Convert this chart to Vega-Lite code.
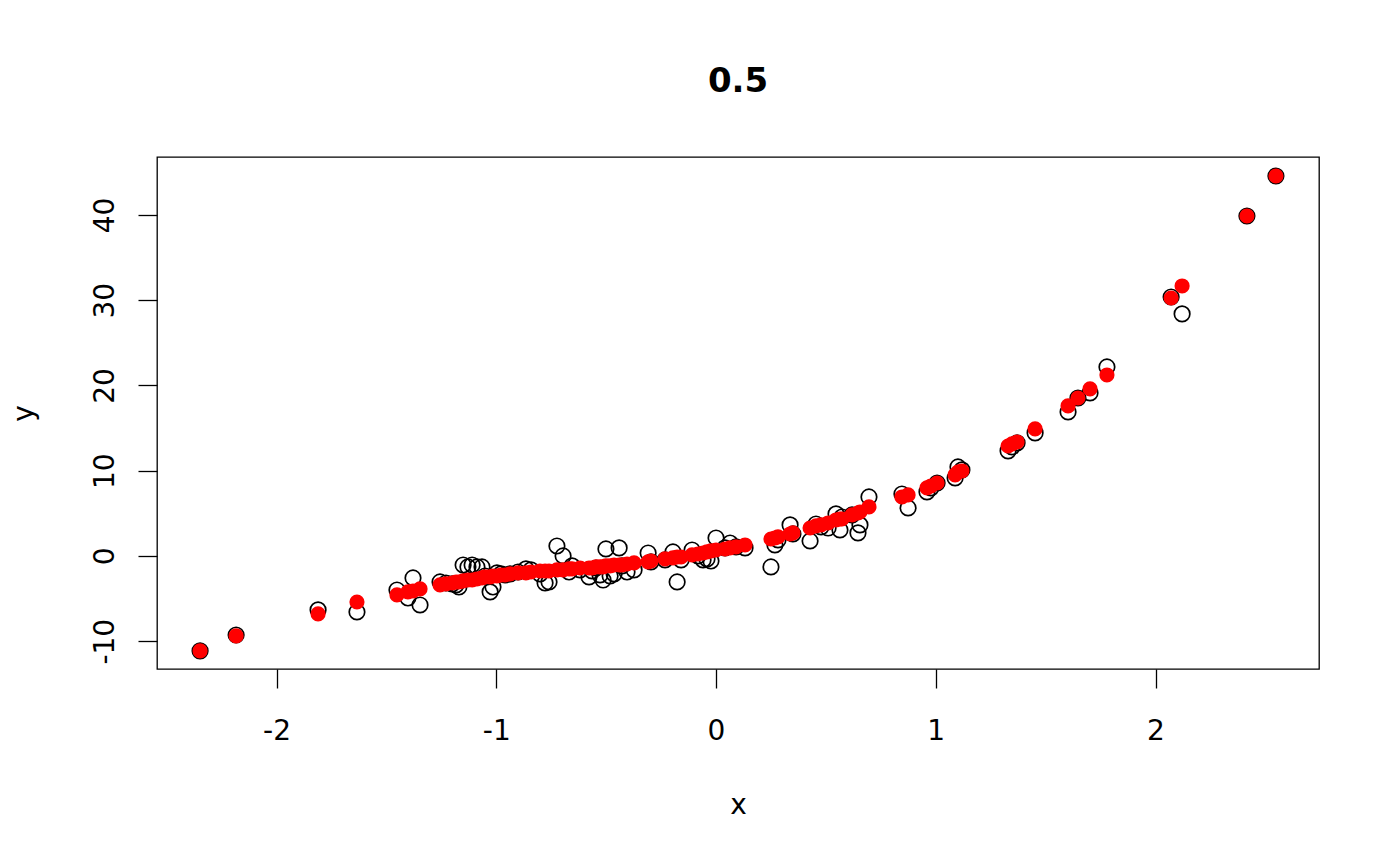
{
  "$schema": "https://vega.github.io/schema/vega-lite/v6.json",
  "width": 1162,
  "height": 512,
  "autosize": {"type": "none"},
  "padding": {"left": 157, "top": 157, "right": 81, "bottom": 197},
  "background": "white",
  "title": {
    "text": "0.5",
    "font": "DejaVu Sans",
    "fontSize": 34,
    "fontWeight": "bold",
    "color": "black",
    "anchor": "middle",
    "baseline": "alphabetic",
    "offset": 31
  },
  "config": {
    "view": {"stroke": "black", "strokeWidth": 1.3},
    "axis": {
      "grid": false,
      "domain": false,
      "tickColor": "black",
      "tickWidth": 1.3,
      "tickSize": 19,
      "labelFont": "DejaVu Sans",
      "labelFontSize": 28,
      "labelColor": "black",
      "labelExpr": "datum.value < 0 ? '-' + abs(datum.value) : '' + datum.value",
      "titleFont": "DejaVu Sans",
      "titleFontSize": 28,
      "titleFontWeight": "normal",
      "titleColor": "black"
    }
  },
  "data": {
    "values": [
      {"x": -2.348, "y": -11.14, "fit": -11.14},
      {"x": -2.184, "y": -9.27, "fit": -9.38},
      {"x": -1.811, "y": -6.33, "fit": -6.80},
      {"x": -1.634, "y": -6.57, "fit": -5.40},
      {"x": -1.452, "y": -3.99, "fit": -4.57},
      {"x": -1.402, "y": -4.93, "fit": -4.22},
      {"x": -1.379, "y": -2.58, "fit": -4.11},
      {"x": -1.347, "y": -5.75, "fit": -3.87},
      {"x": -1.256, "y": -3.05, "fit": -3.40},
      {"x": -1.229, "y": -3.17, "fit": -3.28},
      {"x": -1.201, "y": -3.28, "fit": -3.17},
      {"x": -1.183, "y": -3.40, "fit": -3.05},
      {"x": -1.170, "y": -3.64, "fit": -3.05},
      {"x": -1.151, "y": -1.06, "fit": -2.93},
      {"x": -1.129, "y": -1.29, "fit": -2.82},
      {"x": -1.110, "y": -1.06, "fit": -2.82},
      {"x": -1.088, "y": -1.29, "fit": -2.70},
      {"x": -1.065, "y": -1.29, "fit": -2.58},
      {"x": -1.051, "y": -2.35, "fit": -2.46},
      {"x": -1.028, "y": -4.22, "fit": -2.46},
      {"x": -1.015, "y": -3.64, "fit": -2.35},
      {"x": -0.997, "y": -1.99, "fit": -2.35},
      {"x": -0.978, "y": -2.11, "fit": -2.23},
      {"x": -0.960, "y": -2.23, "fit": -2.23},
      {"x": -0.937, "y": -2.11, "fit": -2.11},
      {"x": -0.901, "y": -1.88, "fit": -1.99},
      {"x": -0.865, "y": -1.52, "fit": -1.99},
      {"x": -0.842, "y": -1.64, "fit": -1.88},
      {"x": -0.801, "y": -2.11, "fit": -1.76},
      {"x": -0.778, "y": -3.17, "fit": -1.76},
      {"x": -0.760, "y": -3.05, "fit": -1.76},
      {"x": -0.724, "y": 1.17, "fit": -1.64},
      {"x": -0.696, "y": 0.00, "fit": -1.64},
      {"x": -0.669, "y": -1.88, "fit": -1.52},
      {"x": -0.655, "y": -1.17, "fit": -1.52},
      {"x": -0.619, "y": -1.64, "fit": -1.41},
      {"x": -0.578, "y": -2.46, "fit": -1.41},
      {"x": -0.564, "y": -1.76, "fit": -1.41},
      {"x": -0.546, "y": -1.41, "fit": -1.29},
      {"x": -0.528, "y": -2.23, "fit": -1.29},
      {"x": -0.514, "y": -2.82, "fit": -1.29},
      {"x": -0.501, "y": 0.82, "fit": -1.17},
      {"x": -0.482, "y": -2.35, "fit": -1.17},
      {"x": -0.464, "y": -2.11, "fit": -1.06},
      {"x": -0.441, "y": 0.94, "fit": -1.06},
      {"x": -0.428, "y": -1.17, "fit": -1.06},
      {"x": -0.405, "y": -1.88, "fit": -0.94},
      {"x": -0.373, "y": -1.64, "fit": -0.82},
      {"x": -0.309, "y": 0.35, "fit": -0.70},
      {"x": -0.296, "y": -0.70, "fit": -0.59},
      {"x": -0.232, "y": -0.47, "fit": -0.35},
      {"x": -0.196, "y": 0.47, "fit": -0.23},
      {"x": -0.177, "y": -3.05, "fit": -0.12},
      {"x": -0.159, "y": -0.47, "fit": -0.12},
      {"x": -0.109, "y": 0.70, "fit": 0.12},
      {"x": -0.082, "y": 0.00, "fit": 0.23},
      {"x": -0.059, "y": -0.47, "fit": 0.35},
      {"x": -0.041, "y": -0.35, "fit": 0.47},
      {"x": -0.023, "y": -0.59, "fit": 0.59},
      {"x": 0.000, "y": 2.11, "fit": 0.70},
      {"x": 0.041, "y": 0.94, "fit": 0.82},
      {"x": 0.064, "y": 1.52, "fit": 0.94},
      {"x": 0.091, "y": 1.06, "fit": 1.06},
      {"x": 0.132, "y": 0.94, "fit": 1.29},
      {"x": 0.250, "y": -1.29, "fit": 1.99},
      {"x": 0.268, "y": 1.29, "fit": 2.11},
      {"x": 0.282, "y": 1.88, "fit": 2.23},
      {"x": 0.337, "y": 3.64, "fit": 2.58},
      {"x": 0.350, "y": 2.58, "fit": 2.70},
      {"x": 0.428, "y": 1.76, "fit": 3.28},
      {"x": 0.455, "y": 3.75, "fit": 3.52},
      {"x": 0.478, "y": 3.40, "fit": 3.64},
      {"x": 0.510, "y": 3.28, "fit": 3.87},
      {"x": 0.546, "y": 4.93, "fit": 4.22},
      {"x": 0.564, "y": 3.05, "fit": 4.34},
      {"x": 0.573, "y": 4.57, "fit": 4.34},
      {"x": 0.619, "y": 4.81, "fit": 4.81},
      {"x": 0.646, "y": 2.70, "fit": 5.04},
      {"x": 0.655, "y": 3.64, "fit": 5.16},
      {"x": 0.696, "y": 6.92, "fit": 5.75},
      {"x": 0.846, "y": 7.27, "fit": 6.92},
      {"x": 0.874, "y": 5.63, "fit": 7.16},
      {"x": 0.960, "y": 7.51, "fit": 7.98},
      {"x": 0.978, "y": 7.98, "fit": 8.21},
      {"x": 1.006, "y": 8.56, "fit": 8.56},
      {"x": 1.088, "y": 9.15, "fit": 9.50},
      {"x": 1.101, "y": 10.44, "fit": 9.85},
      {"x": 1.119, "y": 10.09, "fit": 9.97},
      {"x": 1.329, "y": 12.32, "fit": 12.90},
      {"x": 1.347, "y": 12.79, "fit": 13.14},
      {"x": 1.370, "y": 13.26, "fit": 13.37},
      {"x": 1.452, "y": 14.43, "fit": 14.90},
      {"x": 1.602, "y": 16.89, "fit": 17.60},
      {"x": 1.647, "y": 18.53, "fit": 18.53},
      {"x": 1.702, "y": 19.12, "fit": 19.59},
      {"x": 1.779, "y": 22.17, "fit": 21.23},
      {"x": 2.071, "y": 30.38, "fit": 30.26},
      {"x": 2.121, "y": 28.39, "fit": 31.67},
      {"x": 2.416, "y": 39.88, "fit": 39.88},
      {"x": 2.548, "y": 44.57, "fit": 44.57}
    ]
  },
  "encoding": {
    "x": {
      "field": "x",
      "type": "quantitative",
      "scale": {"domain": [-2.544, 2.744], "nice": false, "zero": false},
      "axis": {
        "values": [-2, -1, 0, 1, 2],
        "labelBaseline": "alphabetic",
        "labelPadding": 51,
        "title": "x",
        "titleBaseline": "alphabetic",
        "titleAnchor": "middle",
        "titleY": 144
      }
    }
  },
  "layer": [
    {
      "mark": {"type": "point", "shape": "circle", "filled": false, "stroke": "black", "strokeWidth": 1.7, "size": 240, "opacity": 1},
      "encoding": {
        "y": {
          "field": "y",
          "type": "quantitative",
          "scale": {"domain": [-13.26, 46.8], "nice": false, "zero": false},
          "axis": {
            "values": [-10, 0, 10, 20, 30, 40],
            "labelAngle": -90,
            "labelAlign": "center",
            "labelBaseline": "alphabetic",
            "labelPadding": 25,
            "title": "y",
            "titleAngle": -90,
            "titleBaseline": "alphabetic",
            "titleAnchor": "middle",
            "titleX": -125
          }
        }
      }
    },
    {
      "mark": {"type": "point", "shape": "circle", "filled": true, "color": "#ff0000", "size": 230, "opacity": 1},
      "encoding": {
        "y": {"field": "fit", "type": "quantitative"}
      }
    }
  ]
}
